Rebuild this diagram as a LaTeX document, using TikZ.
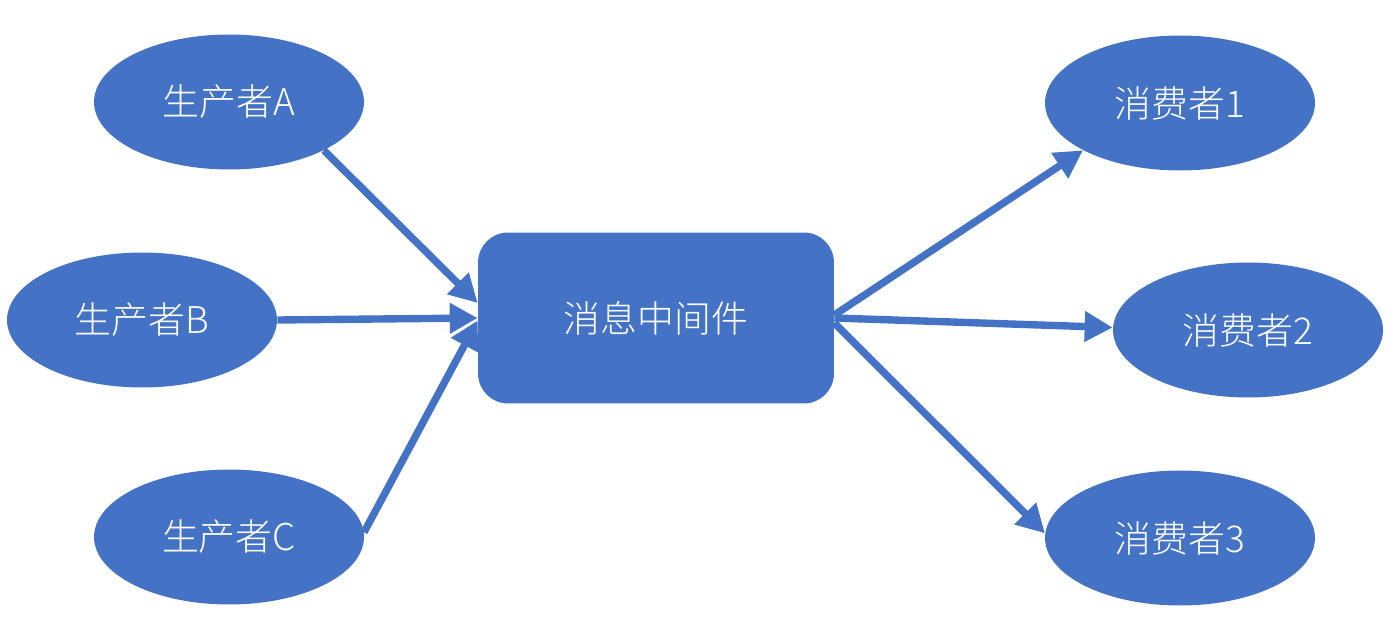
\documentclass[tikz,border=0pt]{standalone}
\usepackage{fontspec}
\IfFontExistsTF{Noto Sans CJK SC Light}{\setmainfont{Noto Sans CJK SC Light}}{\setmainfont{Noto Sans CJK SC}}
\usetikzlibrary{shapes.geometric,arrows.meta}
\definecolor{obl}{HTML}{4472C4}
\tikzset{
  ell/.style={ellipse, fill=obl, draw=none, minimum width=5.4cm, minimum height=2.7cm, inner sep=0pt, text=white, font=\fontsize{21pt}{25pt}\selectfont},
  mqbox/.style={rectangle, rounded corners=0.6cm, fill=obl, draw=none, minimum width=7.12cm, minimum height=3.42cm, inner sep=0pt, text=white, font=\fontsize{21pt}{25pt}\selectfont},
  conn/.style={draw=obl, line width=4.2pt, -{Triangle[length=0.56cm,width=0.58cm]}, shorten >=0pt}
}
\begin{document}
\begin{tikzpicture}[x=0.02cm,y=-0.02cm]
\useasboundingbox (0,0) rectangle (1391,624);
\node[ell] (pA) at (229,102) {生产者A};
\node[ell] (pB) at (142,320) {生产者B};
\node[ell] (pC) at (229,537) {生产者C};
\node[mqbox] (mq) at (656,318) {消息中间件};
\node[ell] (c1) at (1180,103) {消费者1};
\node[ell] (c2) at (1248,330) {消费者2};
\node[ell] (c3) at (1180,538) {消费者3};
\draw[conn] (pA.-27) -- ([yshift=0.3cm]mq.west);
\draw[conn] (pB.east) -- (mq.west);
\draw[conn] (pC.2) -- ([yshift=-0.05cm]mq.west);
\draw[conn] ([yshift=0.06cm]mq.east) -- (c1.206);
\draw[conn] (mq.east) -- ([yshift=0.05cm]c2.west);
\draw[conn] ([yshift=-0.1cm]mq.east) -- (c3.178);
\end{tikzpicture}
\end{document}
